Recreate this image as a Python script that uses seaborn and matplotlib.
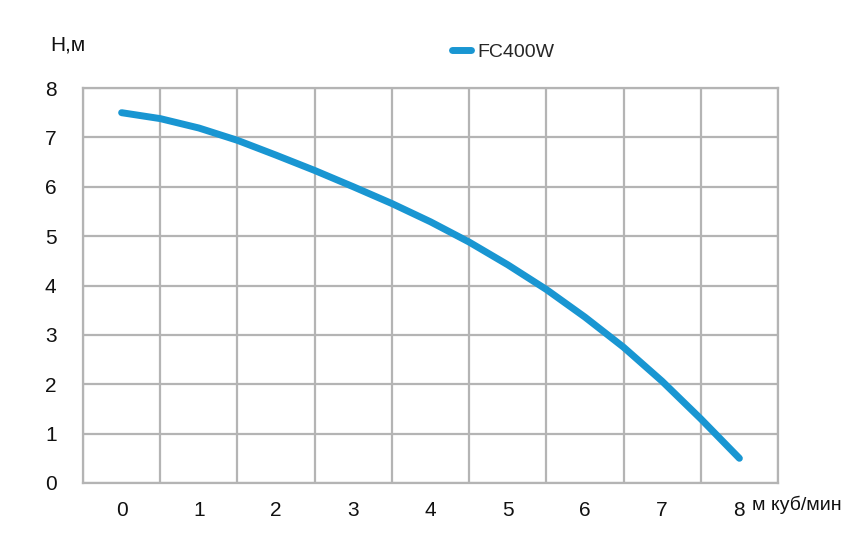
import numpy as np
import pandas as pd
import seaborn as sns
import matplotlib.pyplot as plt

# flow (m3/min) vs head (m)
flow = [0, 0.5, 1, 1.5, 2, 2.5, 3, 3.5, 4, 4.5, 5, 5.5, 6, 6.5, 7, 7.5, 8]
head = [7.5, 7.38, 7.19, 6.94, 6.64, 6.33, 6.0, 5.66, 5.29, 4.88, 4.42, 3.92, 3.36, 2.75, 2.06, 1.3, 0.5]
x_ticks = [0, 1, 2, 3, 4, 5, 6, 7, 8]
y_ticks = [0, 1, 2, 3, 4, 5, 6, 7, 8]
model = 'FC400W'

df = pd.DataFrame({'flow': flow, 'head': head, 'model': model})

sns.set_style('white')
plt.rcParams['font.family'] = ['Liberation Sans', 'DejaVu Sans']

fig = plt.figure(figsize=(8.68, 5.35), dpi=100)
ax = fig.add_axes([83 / 868, 1 - 483 / 535, 695 / 868, 395 / 535])

grid_c = '#b4b4b4'
sns.lineplot(data=df, x='flow', y='head', color='#1996d2', linewidth=5,
             solid_capstyle='round', solid_joinstyle='round', ax=ax, label=model)

ax.set_xlim(-0.5, 8.5)
ax.set_ylim(0, 8)
ax.set_xticks(x_ticks)
ax.set_yticks(y_ticks)
ax.set_xticks(np.arange(-0.5, 8.6, 1), minor=True)
ax.grid(False)
ax.grid(which='minor', axis='x', color=grid_c, linewidth=1.6)
ax.grid(which='major', axis='y', color=grid_c, linewidth=1.6)
ax.set_axisbelow(True)
for s in ax.spines.values():
    s.set_color(grid_c)
    s.set_linewidth(1.6)
ax.tick_params(which='both', length=0)
ax.tick_params(axis='x', pad=13, labelsize=15, labelcolor='#111111')
ax.tick_params(axis='y', pad=19, labelsize=15, labelcolor='#111111')
ax.set_xlabel('')
ax.set_ylabel('')

ax.text(8.16, -0.45, 'м куб/мин', fontsize=14, color='#111111',
        ha='left', va='center', clip_on=False)
fig.text(50 / 868, 1 - 45 / 535, 'Н,м', fontsize=15, color='#111111',
         ha='left', va='center')

leg = ax.legend(loc='center left', bbox_to_anchor=(434 / 868, 1 - 52 / 535),
                bbox_transform=fig.transFigure, frameon=False, fontsize=14,
                handlelength=1.0, handletextpad=0.35)
for line in leg.get_lines():
    line.set_linewidth(5)
    line.set_solid_capstyle('round')

fig.savefig('out.png', dpi=100)
